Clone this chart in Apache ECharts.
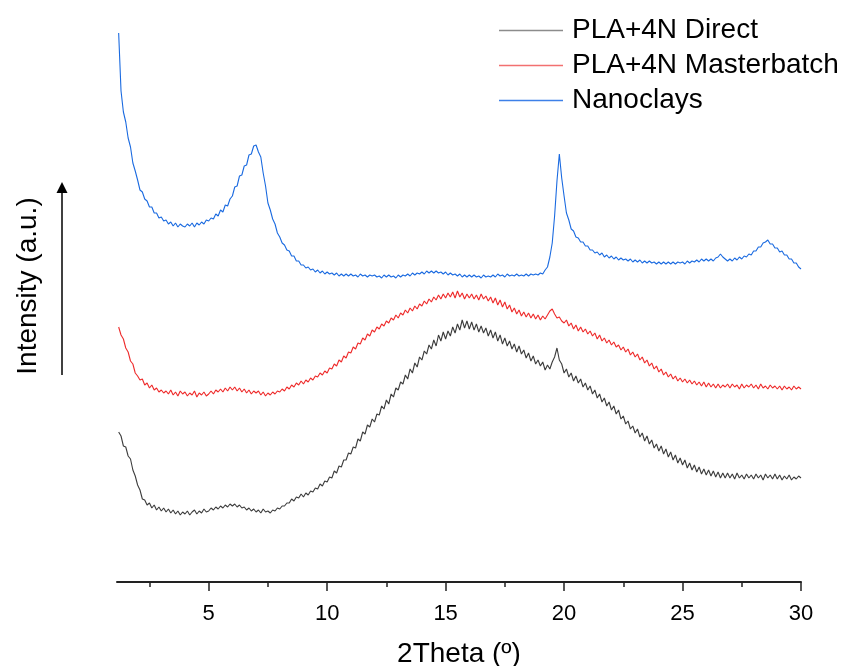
<!DOCTYPE html>
<html>
<head>
<meta charset="utf-8">
<title>XRD patterns</title>
<script src="https://cdn.jsdelivr.net/npm/echarts@6/dist/echarts.min.js"></script>
<style>
  html, body { margin: 0; padding: 0; background: #ffffff; }
  #chart { width: 845px; height: 666px; }
</style>
</head>
<body>
<div id="chart"></div>
<script>
// 2θ scan: 1.2° to 30.0° in 0.1° steps (289 points per pattern)
const scanStart = 1.2;
const scanStep = 0.1;

const seriesNames = ['PLA+4N Direct', 'PLA+4N Masterbatch', 'Nanoclays'];
const xTickValues = [5, 10, 15, 20, 25, 30];
const xMinorTickValues = [2.5, 7.5, 12.5, 17.5, 22.5, 27.5];

// Intensities (a.u., patterns stacked with vertical offsets)
const direct = [
  150,146,136,135,126,123,112,106,
  97,92,83,82,77,79,74,77,72,75,
  71,74,70,73,69,72,68,71,67,70,
  68,71,67,70,72,68,71,69,73,70,
  71,74,72,75,73,76,74,77,75,78,
  76,78,75,77,74,75,72,74,71,73,
  70,72,69,73,70,71,69,72,71,74,
  73,76,76,79,79,83,81,85,84,88,
  85,89,87,91,90,94,93,98,96,101,
  100,105,104,111,109,116,115,122,122,129,
  128,135,134,143,141,150,148,157,155,163,
  160,168,167,176,173,182,178,188,185,194,
  192,200,198,207,203,213,209,219,215,225,
  222,231,228,237,233,242,236,247,241,250,
  243,251,246,255,249,258,252,262,254,261,
  253,260,252,258,250,256,249,254,246,252,
  244,250,241,247,238,244,236,241,233,238,
  230,236,228,232,224,229,221,226,218,222,
  216,220,212,217,213,220,225,234,222,218,
  209,213,205,209,201,206,199,203,195,199,
  192,196,188,192,184,188,180,184,176,180,
  172,176,168,172,163,166,158,161,153,156,
  149,153,145,149,141,146,138,142,134,138,
  131,136,128,133,125,130,122,127,119,124,
  117,122,114,119,112,117,110,115,108,113,
  107,112,106,111,105,110,104,109,104,109,
  104,108,103,109,104,107,103,108,104,107,
  103,108,104,107,102,108,104,107,103,108,
  103,107,102,106,103,107,102,105,103,106,
  104
];

const masterbatch = [
  255,247,243,234,230,221,218,209,
  206,202,203,197,199,194,197,192,194,190,
  192,189,191,188,192,187,190,186,191,188,
  190,186,189,187,191,185,189,187,190,186,
  188,191,188,192,190,193,190,194,191,195,
  192,195,191,194,190,193,189,192,188,191,
  189,191,187,190,186,189,187,190,188,191,
  190,193,191,195,193,197,195,199,197,201,
  198,202,200,204,202,206,205,209,207,211,
  209,214,213,218,216,222,220,226,224,230,
  229,235,233,239,238,244,242,248,246,252,
  250,255,253,258,256,261,259,264,262,267,
  264,269,267,272,269,274,271,276,273,278,
  276,281,278,283,280,285,282,287,283,288,
  284,289,285,290,284,291,285,289,283,288,
  284,288,283,287,282,288,283,286,281,285,
  279,284,277,282,275,280,273,277,270,274,
  268,272,266,270,265,269,264,268,263,267,
  262,266,263,267,271,273,268,264,265,261,
  259,262,256,259,253,257,251,255,250,253,
  248,251,246,249,243,247,241,244,239,242,
  237,240,235,237,232,235,230,233,227,230,
  225,228,222,225,219,222,216,219,213,216,
  210,213,207,210,205,208,203,206,201,204,
  200,203,199,202,198,201,197,200,196,200,
  195,199,195,198,194,198,194,197,195,198,
  194,198,195,197,193,198,194,197,195,198,
  194,197,193,198,194,196,193,197,194,196,
  193,196,192,196,193,195,192,196,193,195,
  193
];

const nanoclays = [
  549,491,470,460,444,435,419,411,
  402,392,390,383,381,375,375,369,369,364,
  365,361,362,358,360,356,359,355,358,356,
  355,358,356,359,355,359,357,360,358,362,
  361,364,363,368,366,372,370,377,376,383,
  386,395,396,406,407,416,417,427,428,436,
  437,430,425,409,396,379,372,363,358,349,
  345,339,337,332,331,326,326,321,321,317,
  317,314,315,312,313,310,312,309,311,308,
  310,308,309,307,309,306,308,306,308,306,
  308,306,307,305,308,306,307,305,307,306,
  307,305,306,304,307,305,307,305,306,304,
  307,305,307,306,308,306,309,307,309,308,
  310,308,311,309,311,309,311,309,310,308,
  310,307,309,307,308,306,308,305,307,305,
  307,305,307,305,306,304,307,305,306,305,
  307,305,308,306,307,305,308,306,307,306,
  308,306,307,306,308,306,308,307,308,307,
  309,308,312,315,325,339,366,401,428,404,
  386,369,362,353,351,345,344,340,340,336,
  336,332,332,329,330,327,329,325,327,324,
  326,323,325,322,324,322,323,321,323,320,
  322,320,322,319,321,319,321,319,320,318,
  320,318,320,318,320,318,320,318,320,319,
  320,318,321,319,321,320,322,320,323,321,
  323,321,323,321,324,325,328,325,323,321,
  323,321,324,322,325,323,326,325,328,327,
  331,331,335,335,339,340,342,338,338,334,
  334,330,331,327,327,323,323,319,319,315,
  313
];

const seriesColors = ['#3c3c3c', '#ee2a2a', '#1a6ae0'];
const legendColors = ['#8c8c8c', '#f27070', '#3d80e8'];
const FONT = 'Liberation Sans, Arial, sans-serif';

function toPairs(values) {
  return values.map((v, i) => [Number((scanStart + i * scanStep).toFixed(1)), v]);
}

const chart = echarts.init(document.getElementById('chart'), null, { renderer: 'canvas' });

const patterns = [direct, masterbatch, nanoclays];

const option = {
  backgroundColor: '#ffffff',
  animation: false,
  grid: {
    left: 117, right: 44, top: 21, bottom: 84,
    containLabel: false,
    outerBoundsMode: 'none'
  },
  legend: {
    orient: 'vertical',
    left: 499,
    top: 13,
    padding: 0,
    icon: 'rect',
    itemWidth: 64,
    itemHeight: 1.5,
    itemGap: 0,
    data: seriesNames.map((name, i) => ({
      name: name,
      icon: 'rect',
      itemStyle: { color: legendColors[i], borderWidth: 0 }
    })),
    textStyle: {
      fontFamily: FONT,
      fontSize: 28,
      color: '#000000',
      lineHeight: 35,
      padding: [0, 0, 0, 4]
    }
  },
  xAxis: [
    {
      type: 'value',
      min: 1.13,
      max: 30,
      position: 'bottom',
      name: '2Theta (º)',
      nameLocation: 'middle',
      nameGap: 58,
      nameTextStyle: { fontFamily: FONT, fontSize: 28, color: '#000000' },
      axisLine: { show: true, lineStyle: { color: '#222222', width: 2 } },
      axisTick: {
        show: true,
        customValues: xTickValues,
        length: 9,
        inside: false,
        lineStyle: { color: '#222222', width: 1.5 }
      },
      axisLabel: {
        show: true,
        customValues: xTickValues,
        margin: 21,
        fontFamily: FONT,
        fontSize: 22,
        color: '#000000'
      },
      splitLine: { show: false }
    },
    {
      type: 'value',
      min: 1.13,
      max: 30,
      position: 'bottom',
      axisLine: { show: false },
      axisTick: {
        show: true,
        customValues: xMinorTickValues,
        length: 5,
        inside: false,
        lineStyle: { color: '#222222', width: 1.5 }
      },
      axisLabel: { show: false },
      splitLine: { show: false }
    }
  ],
  yAxis: {
    type: 'value',
    min: 0,
    max: 561,
    show: false,
    splitLine: { show: false }
  },
  series: seriesNames.map((name, i) => ({
    name: name,
    type: 'line',
    xAxisIndex: 0,
    data: toPairs(patterns[i]),
    showSymbol: false,
    symbol: 'none',
    color: seriesColors[i],
    itemStyle: { color: seriesColors[i] },
    lineStyle: { color: seriesColors[i], width: 1.1 },
    emphasis: { disabled: true }
  })),
  graphic: [
    {
      type: 'line',
      shape: { x1: 62, y1: 375, x2: 62, y2: 191 },
      style: { stroke: '#000000', lineWidth: 1.5 }
    },
    {
      type: 'polygon',
      shape: { points: [[62, 182], [56.5, 193], [67.5, 193]] },
      style: { fill: '#000000' }
    },
    {
      type: 'text',
      x: 28,
      y: 286,
      rotation: Math.PI / 2,
      style: {
        text: 'Intensity (a.u.)',
        font: '28px ' + FONT,
        fill: '#000000',
        align: 'center',
        verticalAlign: 'middle'
      }
    }
  ]
};

chart.setOption(option);
</script>
</body>
</html>
